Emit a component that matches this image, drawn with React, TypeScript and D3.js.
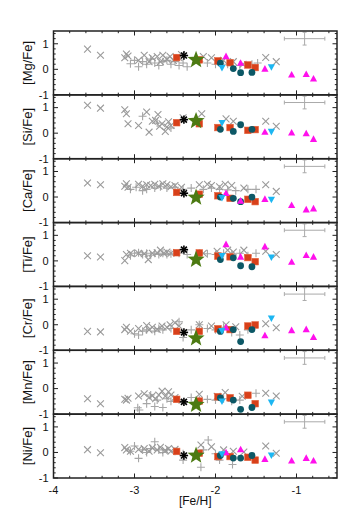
import React from 'react';
import * as d3 from 'd3';

const elements = ['Mg', 'Si', 'Ca', 'Ti', 'Cr', 'Mn', 'Ni'];
const xTicks = [-4, -3, -2, -1];
const yTicks = [-1, 0, 1];

const squareFeH = [-2.48, -2.2, -1.97, -1.82, -1.6, -1.51];
const circleFeH = [-1.94, -1.78, -1.69, -1.55];
const triUpFeH = [-1.87, -1.69, -1.39, -1.06, -0.88, -0.79];
const triDownFeH = [-1.92, -1.31];
const asteriskFeH = -2.39;
const starFeH = -2.24;

const squareVals = [
  [0.46, 0.37, 0.33, 0.26, 0.17, 0.07],
  [0.41, 0.37, 0.22, 0.22, 0.11, 0.14],
  [0.18, 0.11, 0.05, -0.05, -0.09, -0.18],
  [0.32, 0.31, 0.19, 0.16, 0.13, -0.03],
  [-0.26, -0.26, -0.16, -0.19, -0.05, -0.01],
  [-0.42, -0.49, -0.32, -0.36, -0.26, -0.59],
  [0.04, -0.03, -0.16, -0.16, -0.19, -0.3],
];
const circleVals = [
  [0.24, 0.03, -0.13, -0.12],
  [0.15, 0.07, 0.33, 0.15],
  [0, -0.05, -0.18, 0],
  [0.05, 0.12, -0.19, -0.23],
  [-0.26, -0.19, -0.66, -0.19],
  [-0.36, -0.45, -0.81, -0.74],
  [-0.12, -0.22, -0.22, -0.12],
];
const triUpVals = [
  [0.5, 0.24, 0.01, -0.22, -0.2, -0.38],
  [null, null, 0.04, 0.01, -0.02, -0.24],
  [0.14, -0.16, -0.09, -0.33, -0.5, -0.46],
  [0.64, 0.15, 0.55, -0.05, 0.21, 0.15],
  [-0.12, null, -0.43, -0.23, -0.19, -0.5],
  [null, null, null, null, null, null],
  [-0.01, 0.11, -0.27, -0.33, -0.23, -0.33],
];
const triDownVals = [
  [0.07, 0.1],
  [0.41, 0.07],
  [-0.02, -0.09],
  [0.21, 0.15],
  [-0.23, 0.26],
  [-0.49, -0.53],
  [-0.05, -0.1],
];
const asteriskVals = [0.54, 0.53, 0.15, 0.44, -0.3, -0.52, -0.12];
const starVals = [0.37, 0.48, -0.02, 0.05, -0.53, -0.63, -0.12];

const errFeH = -0.9;
const errVal = 1.2;
const errX = 0.25;
const errY = 0.25;

const litCross = [
  [[-3.58, 0.79], [-3.42, 0.55], [-3.12, 0.45], [-3.1, 0.6], [-3.08, 0.52], [-2.95, 0.35], [-2.88, 0.55], [-2.82, 0.3], [-2.78, 0.45], [-2.72, 0.5], [-2.68, 0.3], [-2.65, 0.55], [-2.6, 0.4], [-2.56, 0.5], [-2.52, 0.35], [-2.45, 0.45], [-2.42, 0.58], [-2.15, 0.5], [-2.05, 0.45], [-1.9, 0.35], [-1.78, 0.3], [-1.66, 0.2], [-1.38, 0.46], [-1.25, 0.3]],
  [[-3.58, 1.09], [-3.42, 0.98], [-3.12, 0.92], [-3.1, 0.76], [-3.08, 0.37], [-2.95, 0.3], [-2.85, 0.83], [-2.82, 0.04], [-2.78, 0.47], [-2.74, 0.5], [-2.71, 0.73], [-2.69, 0.27], [-2.66, 0.37], [-2.62, 0.07], [-2.6, 0.24], [-2.58, 0.45], [-2.55, 0.3], [-2.4, 0.6], [-2.17, 0.76], [-1.87, 0.56], [-1.78, 0.47], [-1.38, 0.47], [-1.25, 0.27]],
  [[-3.58, 0.55], [-3.42, 0.48], [-3.12, 0.42], [-3.1, 0.52], [-3.08, 0.38], [-2.95, 0.5], [-2.9, 0.42], [-2.85, 0.48], [-2.8, 0.45], [-2.75, 0.5], [-2.7, 0.42], [-2.65, 0.52], [-2.6, 0.48], [-2.55, 0.4], [-2.5, 0.45], [-2.42, 0.38], [-2.2, 0.48], [-2.1, 0.5], [-2.05, 0.45], [-1.95, 0.4], [-1.88, 0.5], [-1.8, 0.45], [-1.65, 0.35], [-1.38, 0.48], [-1.25, 0.22]],
  [[-3.58, 0.2], [-3.42, 0.15], [-3.12, 0.01], [-3.1, 0.25], [-3.05, 0.3], [-2.95, 0.3], [-2.88, 0.28], [-2.83, 0.05], [-2.78, 0.3], [-2.72, 0.32], [-2.68, 0.42], [-2.64, 0.3], [-2.6, 0.35], [-2.55, 0.3], [-2.48, 0.33], [-2.15, 0.3], [-1.98, 0.38], [-1.85, 0.42], [-1.78, 0.35], [-1.65, 0.42], [-1.38, 0.38], [-1.25, 0.25]],
  [[-3.58, -0.26], [-3.42, -0.28], [-3.12, -0.19], [-3.1, -0.1], [-3.05, -0.25], [-2.95, -0.15], [-2.85, -0.03], [-2.82, -0.2], [-2.78, -0.1], [-2.72, -0.18], [-2.66, -0.05], [-2.6, -0.1], [-2.56, 0.0], [-2.5, 0.08], [-2.45, -0.05], [-2.2, 0.0], [-2.05, -0.05], [-1.87, 0.0], [-1.75, -0.08], [-1.38, 0.04], [-1.25, -0.12]],
  [[-3.58, -0.4], [-3.42, -0.59], [-3.12, -0.42], [-3.1, -0.45], [-3.08, -0.38], [-2.95, -0.29], [-2.88, -0.2], [-2.82, -0.35], [-2.78, -0.28], [-2.74, -0.4], [-2.7, -0.25], [-2.66, -0.1], [-2.62, -0.3], [-2.58, -0.12], [-2.55, -0.25], [-2.5, -0.35], [-2.2, -0.22], [-1.98, -0.3], [-1.88, -0.15], [-1.67, -0.3], [-1.38, -0.18], [-1.25, -0.29]],
  [[-3.58, 0.11], [-3.42, -0.01], [-3.12, 0.19], [-3.1, 0.1], [-3.05, 0.05], [-2.95, 0.12], [-2.88, 0.15], [-2.82, 0.05], [-2.78, 0.18], [-2.72, 0.1], [-2.68, 0.2], [-2.62, 0.08], [-2.58, 0.15], [-2.55, 0.05], [-2.5, 0.12], [-2.18, 0.29], [-2.05, 0.22], [-1.9, 0.1], [-1.78, 0.05], [-1.65, 0.02], [-1.38, 0.25], [-1.25, -0.03]],
];

const litPlus = [
  [[-3.05, 0.22], [-3.0, 0.35], [-2.95, 0.1], [-2.9, 0.3], [-2.85, 0.2], [-2.8, 0.4], [-2.75, 0.25], [-2.7, 0.15], [-2.65, 0.3], [-2.6, 0.35], [-2.55, 0.2], [-2.5, 0.3], [-2.45, 0.15], [-2.4, 0.25], [-2.35, 0.1], [-2.2, 0.3], [-2.1, 0.25], [-2.0, 0.2], [-1.95, 0.3], [-1.85, 0.2], [-1.7, 0.15], [-1.55, 0.2], [-1.48, 0.25]],
  [[-2.9, 0.66], [-2.72, 0.4], [-2.55, 0.2]],
  [[-3.05, 0.3], [-2.98, 0.38], [-2.9, 0.25], [-2.85, 0.3], [-2.75, 0.35], [-2.68, 0.4], [-2.6, 0.35], [-2.5, 0.38], [-2.4, 0.3], [-2.3, 0.35], [-2.15, 0.3], [-2.05, 0.35], [-1.95, 0.3], [-1.85, 0.28], [-1.75, 0.25], [-1.6, 0.3], [-1.5, 0.3]],
  [[-3.05, 0.2], [-3.0, 0.3], [-2.95, 0.32], [-2.9, 0.25], [-2.85, 0.3], [-2.8, 0.22], [-2.75, 0.3], [-2.7, 0.25], [-2.65, 0.3], [-2.6, 0.25], [-2.55, 0.28], [-2.45, 0.3], [-2.35, 0.25], [-2.2, 0.3], [-2.1, 0.28], [-2.0, 0.25], [-1.9, 0.3], [-1.8, 0.25], [-1.7, 0.3], [-1.6, 0.2], [-1.5, 0.3]],
  [[-3.0, -0.35], [-2.95, -0.4], [-2.9, -0.25], [-2.85, -0.2], [-2.75, -0.25], [-2.7, -0.15], [-2.65, -0.2], [-2.55, -0.15], [-2.45, 0.12], [-2.4, -0.5], [-2.3, -0.2], [-2.2, 0.0], [-2.1, -0.15], [-2.0, -0.2], [-1.9, -0.1], [-1.8, -0.3], [-1.7, -0.4], [-1.6, -0.2]],
  [[-2.94, -0.84], [-2.96, -0.75], [-2.85, -0.59], [-2.8, -0.25], [-2.75, -0.7], [-2.72, -0.45], [-2.65, -0.74], [-2.6, -0.4], [-2.55, -0.5], [-2.45, -0.45], [-2.3, -0.35], [-2.2, -0.45], [-2.1, -0.42], [-2.0, -0.45], [-1.9, -0.4], [-1.8, -0.5], [-1.7, -0.45], [-1.5, -0.18]],
  [[-3.05, 0.05], [-3.0, 0.25], [-2.95, -0.23], [-2.9, 0.1], [-2.85, 0.0], [-2.8, 0.15], [-2.75, 0.42], [-2.7, 0.1], [-2.65, 0.0], [-2.6, 0.1], [-2.5, 0.05], [-2.4, -0.05], [-2.4, -0.3], [-2.15, 0.1], [-2.09, 0.49], [-2.18, -0.58], [-2.0, -0.05], [-1.95, -0.3], [-1.79, -0.47], [-1.85, -0.1]],
];

const L = 53.5, R = 337, T = 31, B = 478;
const FONT = 'Liberation Sans, Arial, sans-serif';

function starPath(cx: number, cy: number, ro: number, ri: number) {
  const pts: string[] = [];
  for (let i = 0; i < 10; i++) {
    const r = i % 2 === 0 ? ro : ri;
    const a = -Math.PI / 2 + (i * Math.PI) / 5;
    pts.push(`${cx + r * Math.cos(a)},${cy + r * Math.sin(a)}`);
  }
  return 'M' + pts.join('L') + 'Z';
}

export default function App() {
  const x = d3.scaleLinear().domain([-4, -0.5]).range([L, R]);
  const ph = (B - T) / elements.length;
  const xMinor = d3.range(-4, -0.5 + 1e-9, 0.2);
  const yMinor = d3.range(-1, 1.5 + 1e-9, 0.2);

  return (
    <svg width={354} height={531} style={{ position: 'absolute', left: 0, top: 0, background: '#fff' }}>
      {elements.map((el, i) => {
        const top = T + i * ph;
        const y = d3.scaleLinear().domain([-1, 1.5]).range([top + ph, top]);
        const sq = squareFeH.map((f, k) => [f, squareVals[i][k]]).filter(d => d[1] !== null);
        const ci = circleFeH.map((f, k) => [f, circleVals[i][k]]).filter(d => d[1] !== null);
        const tu = triUpFeH.map((f, k) => [f, triUpVals[i][k]]).filter(d => d[1] !== null);
        const td = triDownFeH.map((f, k) => [f, triDownVals[i][k]]).filter(d => d[1] !== null);
        const ax = x(asteriskFeH), ay = y(asteriskVals[i]);
        const ex = x(errFeH), ey = y(errVal);
        return (
          <g key={el}>
            <g stroke="#aaa" strokeWidth={1}>
              <line x1={x(errFeH - errX)} x2={x(errFeH + errX)} y1={ey} y2={ey} />
              <line x1={ex} x2={ex} y1={y(errVal - errY)} y2={y(errVal + errY)} />
              <line x1={x(errFeH - errX)} x2={x(errFeH - errX)} y1={ey - 2} y2={ey + 2} />
              <line x1={x(errFeH + errX)} x2={x(errFeH + errX)} y1={ey - 2} y2={ey + 2} />
              <line x1={ex - 2} x2={ex + 2} y1={y(errVal - errY)} y2={y(errVal - errY)} />
              <line x1={ex - 2} x2={ex + 2} y1={y(errVal + errY)} y2={y(errVal + errY)} />
            </g>
            <g stroke="#a6a6a6" strokeWidth={1.1}>
              {litPlus[i].map((d, k) => (
                <path key={'p' + k} d={`M${x(d[0]) - 4},${y(d[1])}h8M${x(d[0])},${y(d[1]) - 4}v8`} />
              ))}
              {litCross[i].map((d, k) => (
                <path key={'c' + k} stroke="#9a9a9a" d={`M${x(d[0]) - 3.4},${y(d[1]) - 3.4}l6.8,6.8M${x(d[0]) - 3.4},${y(d[1]) + 3.4}l6.8,-6.8`} />
              ))}
            </g>
            {sq.map((d, k) => (
              <rect key={'s' + k} x={x(d[0] as number) - 3.3} y={y(d[1] as number) - 3.3} width={6.6} height={6.6} fill="#d8401a" stroke="#e4603a" strokeWidth={0.6} />
            ))}
            {ci.map((d, k) => (
              <circle key={'o' + k} cx={x(d[0] as number)} cy={y(d[1] as number)} r={3.4} fill="#0c5866" />
            ))}
            {tu.map((d, k) => {
              const cx = x(d[0] as number), cy = y(d[1] as number);
              return <path key={'u' + k} d={`M${cx},${cy - 4}L${cx + 3.6},${cy + 2.6}L${cx - 3.6},${cy + 2.6}Z`} fill="#ff10ec" />;
            })}
            {td.map((d, k) => {
              const cx = x(d[0] as number), cy = y(d[1] as number);
              return <path key={'d' + k} d={`M${cx},${cy + 4}L${cx + 3.6},${cy - 2.6}L${cx - 3.6},${cy - 2.6}Z`} fill="#1cb6f2" />;
            })}
            <g stroke="#000" strokeWidth={1.6}>
              {[0, 45, 90, 135].map(a => {
                const r = 4.2, rad = (a * Math.PI) / 180;
                return <line key={a} x1={ax - r * Math.cos(rad)} y1={ay - r * Math.sin(rad)} x2={ax + r * Math.cos(rad)} y2={ay + r * Math.sin(rad)} />;
              })}
            </g>
            <path d={starPath(x(starFeH), y(starVals[i]), 9, 3.8)} fill="#4c7a12" />
            <g stroke="#222" strokeWidth={1}>
              {xMinor.map((v, k) => {
                const major = Math.abs(v - Math.round(v)) < 1e-6;
                const len = major ? 4.5 : 2.2;
                return (
                  <g key={'xt' + k}>
                    <line x1={x(v)} x2={x(v)} y1={top} y2={top + len} />
                    <line x1={x(v)} x2={x(v)} y1={top + ph} y2={top + ph - len} />
                  </g>
                );
              })}
              {yMinor.map((v, k) => {
                const major = Math.abs(v - Math.round(v)) < 1e-6;
                const len = major ? 4.5 : 2.2;
                return (
                  <g key={'yt' + k}>
                    <line x1={L} x2={L + len} y1={y(v)} y2={y(v)} />
                    <line x1={R} x2={R - len} y1={y(v)} y2={y(v)} />
                  </g>
                );
              })}
            </g>
            <rect x={L} y={top} width={R - L} height={ph} fill="none" stroke="#222" strokeWidth={1.5} />
            {yTicks.map(t => (
              <text key={'yl' + t} x={48.5} y={y(t)} dy="0.35em" textAnchor="end" fontFamily={FONT} fontSize={11} fill="#111">{t}</text>
            ))}
            <text transform={`translate(31.5,${top + ph / 2}) rotate(-90)`} textAnchor="middle" fontFamily={FONT} fontSize={13} fill="#111">{`[${el}/Fe]`}</text>
          </g>
        );
      })}
      {xTicks.map(t => (
        <text key={'xl' + t} x={x(t)} y={494} textAnchor="middle" fontFamily={FONT} fontSize={11} fill="#111">{t}</text>
      ))}
      <text x={(L + R) / 2} y={505} textAnchor="middle" fontFamily={FONT} fontSize={12} fill="#111">[Fe/H]</text>
    </svg>
  );
}
